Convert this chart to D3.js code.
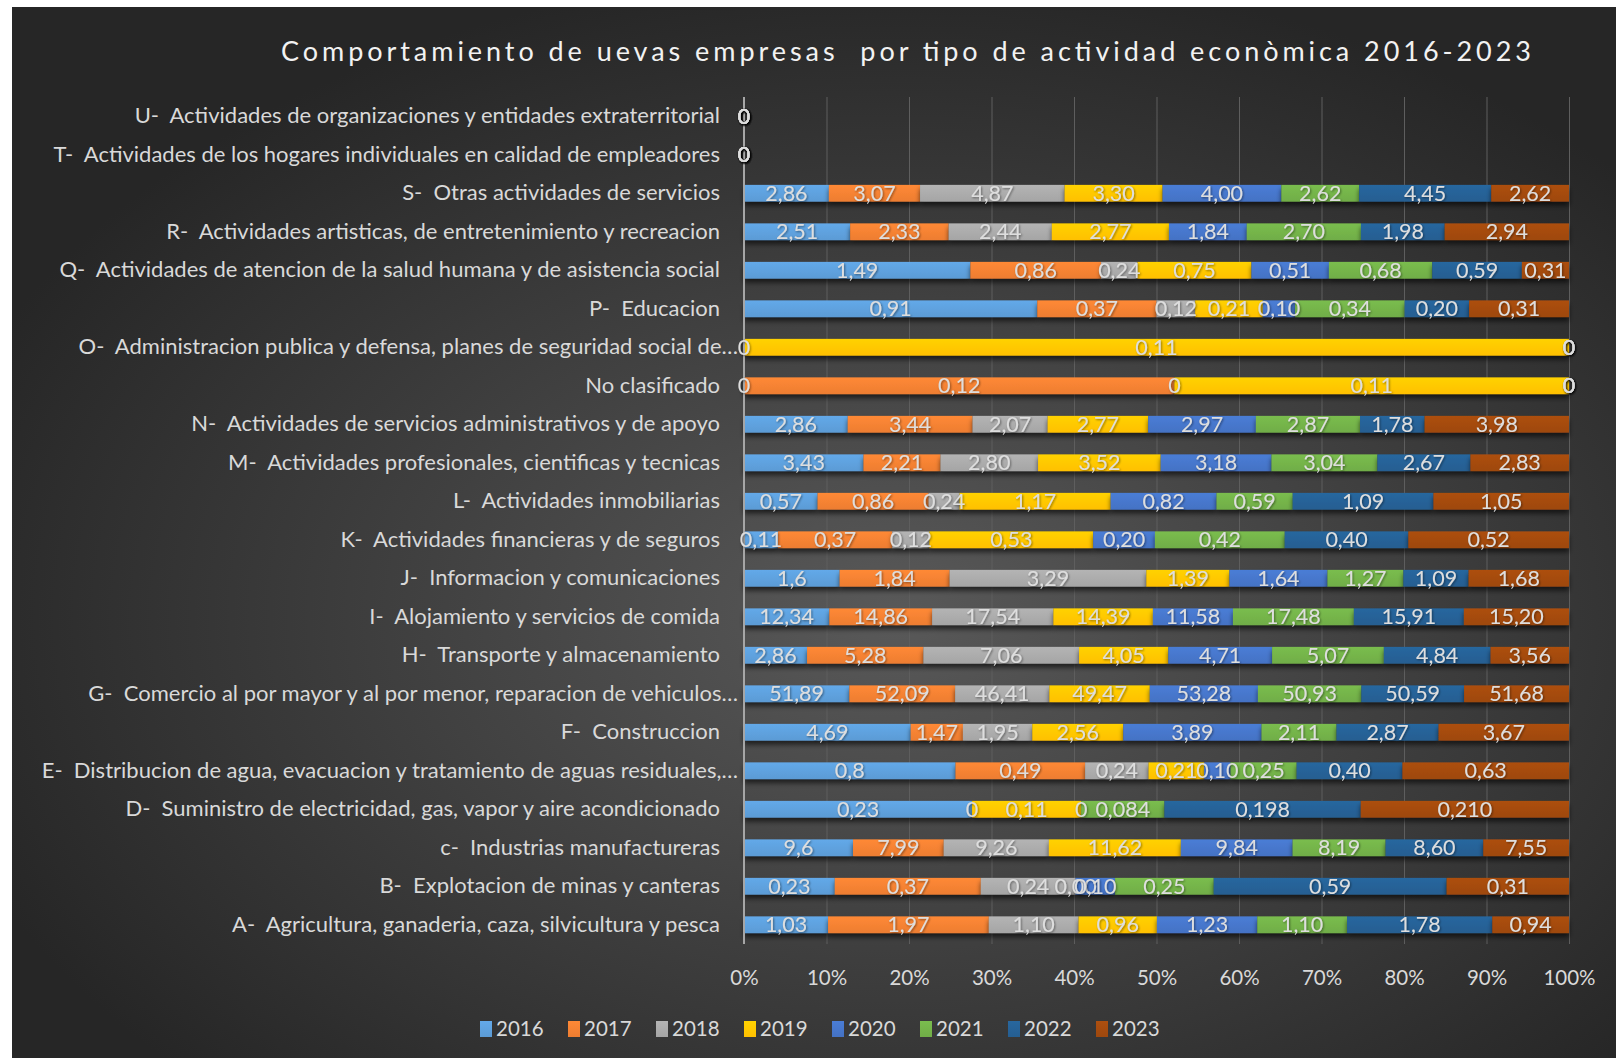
<!DOCTYPE html>
<html>
<head>
<meta charset="utf-8">
<script src="https://cdn.jsdelivr.net/npm/d3@7"></script>
<style>
    body { margin: 0; background: #ffffff; }
    svg text { font-family: Lato, "Liberation Sans", sans-serif; white-space: pre; }
</style>
</head>
<body>
<svg id="drawing_region"></svg>
<script>
// categories from bottom (A) to top (U)
const categories = [
    "A-  Agricultura, ganaderia, caza, silvicultura y pesca",
    "B-  Explotacion de minas y canteras",
    "c-  Industrias manufactureras",
    "D-  Suministro de electricidad, gas, vapor y aire acondicionado",
    "E-  Distribucion de agua, evacuacion y tratamiento de aguas residuales,…",
    "F-  Construccion",
    "G-  Comercio al por mayor y al por menor, reparacion de vehiculos…",
    "H-  Transporte y almacenamiento",
    "I-  Alojamiento y servicios de comida",
    "J-  Informacion y comunicaciones",
    "K-  Actividades financieras y de seguros",
    "L-  Actividades inmobiliarias",
    "M-  Actividades profesionales, cientificas y tecnicas",
    "N-  Actividades de servicios administrativos y de apoyo",
    "No clasificado",
    "O-  Administracion publica y defensa, planes de seguridad social de…",
    "P-  Educacion",
    "Q-  Actividades de atencion de la salud humana y de asistencia social",
    "R-  Actividades artisticas, de entretenimiento y recreacion",
    "S-  Otras actividades de servicios",
    "T-  Actividades de los hogares individuales en calidad de empleadores",
    "U-  Actividades de organizaciones y entidades extraterritorial"
];

const years = ["2016", "2017", "2018", "2019", "2020", "2021", "2022", "2023"];

// values as shown in the cells ("" = empty cell)
const v2016 = ["1,03","0,23","9,6","0,23","0,8","4,69","51,89","2,86","12,34","1,6","0,11","0,57","3,43","2,86","0","0","0,91","1,49","2,51","2,86","0","0"];
const v2017 = ["1,97","0,37","7,99","","0,49","1,47","52,09","5,28","14,86","1,84","0,37","0,86","2,21","3,44","0,12","","0,37","0,86","2,33","3,07","0","0"];
const v2018 = ["1,10","0,24","9,26","0","0,24","1,95","46,41","7,06","17,54","3,29","0,12","0,24","2,80","2,07","0","","0,12","0,24","2,44","4,87","0","0"];
const v2019 = ["0,96","0,00","11,62","0,11","0,21","2,56","49,47","4,05","14,39","1,39","0,53","1,17","3,52","2,77","0,11","0,11","0,21","0,75","2,77","3,30","0","0"];
const v2020 = ["1,23","0,10","9,84","0","0,10","3,89","53,28","4,71","11,58","1,64","0,20","0,82","3,18","2,97","0","0","0,10","0,51","1,84","4,00","0","0"];
const v2021 = ["1,10","0,25","8,19","0,084","0,25","2,11","50,93","5,07","17,48","1,27","0,42","0,59","3,04","2,87","0","0","0,34","0,68","2,70","2,62","0","0"];
const v2022 = ["1,78","0,59","8,60","0,198","0,40","2,87","50,59","4,84","15,91","1,09","0,40","1,09","2,67","1,78","0","0","0,20","0,59","1,98","4,45","0","0"];
const v2023 = ["0,94","0,31","7,55","0,210","0,63","3,67","51,68","3,56","15,20","1,68","0,52","1,05","2,83","3,98","0","0","0,31","0,31","2,94","2,62","0","0"];

const series = [v2016, v2017, v2018, v2019, v2020, v2021, v2022, v2023];
const colors = ["#5B9BD5", "#ED7D31", "#A5A5A5", "#FFC000", "#4472C4", "#70AD47", "#255E91", "#9E480E"];
const xticks = [0, 0.1, 0.2, 0.3, 0.4, 0.5, 0.6, 0.7, 0.8, 0.9, 1];

const title = "Comportamiento de uevas empresas  por tipo de actividad econòmica 2016-2023";

const num = s => s === "" ? 0 : +s.replace(",", ".");

const data = categories.map((c, i) => {
    const row = { label: c };
    years.forEach((y, k) => { row[y] = num(series[k][i]); row["t" + y] = series[k][i]; });
    return row;
});

class StackedBarChart {

    constructor( config, data ) {
        this.config = config;
        this.data = data;
        this.init();
    }

    init() {
        let self = this;

        self.svg = d3.select( self.config.parent )
            .attr('width', self.config.width)
            .attr('height', self.config.height);

        const defs = self.svg.append('defs');

        const bg = defs.append('radialGradient')
            .attr('id', 'bg')
            .attr('cx', '55%').attr('cy', '58%').attr('r', '62%');
        bg.append('stop').attr('offset', '0%').attr('stop-color', '#595959');
        bg.append('stop').attr('offset', '100%').attr('stop-color', '#262626');

        colors.forEach((c, i) => {
            const g = defs.append('linearGradient')
                .attr('id', 'grad' + i)
                .attr('x1', 0).attr('y1', 0).attr('x2', 0).attr('y2', 1);
            g.append('stop').attr('offset', '0%').attr('stop-color', d3.color(c).brighter(0.25));
            g.append('stop').attr('offset', '100%').attr('stop-color', c);
        });

        const shadow = defs.append('filter').attr('id', 'shadow')
            .attr('x', '-5%').attr('y', '-50%').attr('width', '110%').attr('height', '250%');
        shadow.append('feDropShadow')
            .attr('dx', 0).attr('dy', 4).attr('stdDeviation', 2.5)
            .attr('flood-color', '#000').attr('flood-opacity', 0.6);

        const tshadow = defs.append('filter').attr('id', 'tshadow')
            .attr('x', '-50%').attr('y', '-50%').attr('width', '200%').attr('height', '200%');
        tshadow.append('feDropShadow')
            .attr('dx', 1).attr('dy', 1).attr('stdDeviation', 1.2)
            .attr('flood-color', '#000').attr('flood-opacity', 0.45);

        self.svg.append('rect')
            .attr('x', 12).attr('y', 7)
            .attr('width', self.config.width - 12)
            .attr('height', self.config.height - 9)
            .attr('fill', 'url(#bg)');

        self.svg.append('text')
            .attr('x', 906).attr('y', 61)
            .attr('text-anchor', 'middle')
            .attr('textLength', 1250)
            .attr('lengthAdjust', 'spacing')
            .attr('fill', '#f2f2f2')
            .style('font-size', '27px')
            .text(title);

        const m = self.config.margin;
        self.chart = self.svg.append('g')
            .attr('transform', `translate(${m.left}, ${m.top})`);

        self.inner_width = self.config.width - m.left - m.right;
        self.inner_height = self.config.height - m.top - m.bottom;

        self.xscale = d3.scaleLinear()
            .domain([0, 1])
            .range([0, self.inner_width]);

        self.yscale = d3.scaleBand()
            .domain(self.data.map(d => d.label).reverse())
            .range([0, self.inner_height])
            .paddingInner(0.565)
            .paddingOuter(0.2825);

        self.grid_group = self.chart.append('g');
        self.bar_group = self.chart.append('g');
        self.yaxis_group = self.chart.append('g');
        self.label_group = self.chart.append('g');
        self.xaxis_group = self.chart.append('g')
            .attr('transform', `translate(0, ${self.inner_height})`);
        self.legend_group = self.svg.append('g');
    }

    update() {
        let self = this;
        self.stacked = d3.stack()
            .keys(years)
            .offset(d3.stackOffsetExpand)(self.data);
        self.render();
    }

    render() {
        let self = this;

        // vertical gridlines
        self.grid_group
            .call(d3.axisBottom(self.xscale).tickValues(xticks).tickSize(self.inner_height).tickFormat(''))
            .call(g => g.select('.domain').remove())
            .call(g => g.selectAll('line').attr('stroke', '#5e5e5e').attr('stroke-width', 1));

        // bars
        const layers = self.bar_group.selectAll('g.layer')
            .data(self.stacked)
            .join('g')
            .attr('class', 'layer')
            .attr('fill', (d, i) => `url(#grad${i})`)
            .attr('filter', 'url(#shadow)');

        layers.selectAll('rect')
            .data(d => d.map(p => ({ p: p, key: d.key })).filter(e => e.p.data['t' + e.key] !== ''))
            .join('rect')
            .attr('x', e => self.xscale(e.p[0]))
            .attr('y', e => self.yscale(e.p.data.label))
            .attr('width', e => self.xscale(e.p[1]) - self.xscale(e.p[0]))
            .attr('height', self.yscale.bandwidth());

        // y axis
        self.yaxis_group
            .call(d3.axisLeft(self.yscale).tickSize(0).tickPadding(24))
            .call(g => g.select('.domain')
                .attr('stroke', '#a6a6a6').attr('stroke-width', 2)
                .attr('d', `M0,0V${self.inner_height}`))
            .call(g => g.selectAll('text')
                .attr('fill', '#d9d9d9')
                .style('font-size', '22px')
                .attr('x', d => d.endsWith('…') ? -6 : -24));

        // data labels
        const items = [];
        self.stacked.forEach(layer => {
            layer.forEach(p => {
                const t = p.data['t' + layer.key];
                if (t !== '') items.push({ p: p, t: t });
            });
        });

        self.label_group.selectAll('text')
            .data(items)
            .join('text')
            .attr('x', d => (self.xscale(d.p[0]) + self.xscale(d.p[1])) / 2)
            .attr('y', d => self.yscale(d.p.data.label) + self.yscale.bandwidth() / 2)
            .attr('dy', '0.36em')
            .attr('text-anchor', 'middle')
            .attr('fill', '#dedede')
            .attr('filter', 'url(#tshadow)')
            .style('font-size', '21.5px')
            .text(d => d.t);

        // x axis
        self.xaxis_group
            .call(d3.axisBottom(self.xscale).tickValues(xticks).tickSize(0).tickPadding(26).tickFormat(d3.format('.0%')))
            .call(g => g.select('.domain').remove())
            .call(g => g.selectAll('text').attr('fill', '#d9d9d9').style('font-size', '20.5px'));

        // legend
        const item = self.legend_group.selectAll('g')
            .data(years)
            .join('g')
            .attr('transform', (d, i) => `translate(${480 + i * 88}, 1029)`);

        item.append('rect')
            .attr('x', 0).attr('y', -8)
            .attr('width', 12).attr('height', 16)
            .attr('fill', (d, i) => `url(#grad${i})`);

        item.append('text')
            .attr('x', 16).attr('y', 0)
            .attr('dy', '0.36em')
            .attr('fill', '#d9d9d9')
            .style('font-size', '20.5px')
            .text(d => d);
    }
}

const config = {
    parent: '#drawing_region',
    width: 1616,
    height: 1060,
    margin: { top: 97, right: 47, bottom: 116, left: 744 }
};

const chart = new StackedBarChart( config, data );
chart.update();
</script>
</body>
</html>
